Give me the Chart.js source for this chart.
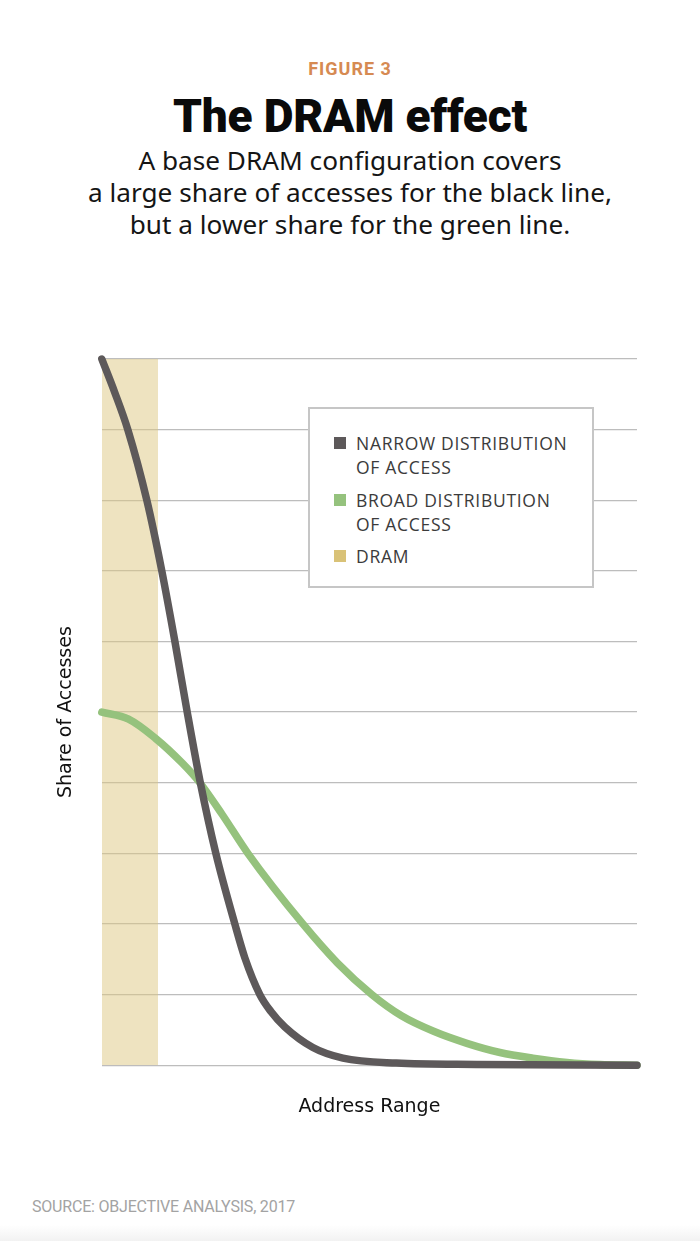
<!DOCTYPE html>
<html>
<head>
<meta charset="utf-8">
<script src="https://cdn.jsdelivr.net/npm/chart.js@4"></script>
<style>
  html, body { margin: 0; padding: 0; background: #fff; }
  body { width: 700px; height: 1241px; position: relative; overflow: hidden; font-family: "Noto Sans", sans-serif; }
  .kicker { position: absolute; top: 58px; left: 0; width: 700px; text-align: center; font: 700 18px Roboto, sans-serif; color: #d68a52; letter-spacing: 1px; }
  .title { position: absolute; top: 89px; left: 0; width: 700px; text-align: center; font: 900 46px Roboto, sans-serif; color: #0a0a0a; letter-spacing: -0.2px; }
  .sub { position: absolute; top: 144px; left: 0; width: 700px; text-align: center; font: 400 26.2px "Noto Sans", sans-serif; color: #151515; line-height: 32px; }
  #wrap { position: absolute; left: 0; top: 330px; width: 700px; height: 800px; }
  .legend { position: absolute; left: 308px; top: 407px; width: 282px; height: 177px; border: 2px solid #c6c6c6; background: #fff; }
  .legend .item { position: absolute; left: 46px; font: 400 17.5px "Open Sans", sans-serif; color: #3b3b3b; line-height: 24px; letter-spacing: 0.7px; white-space: nowrap; }
  .legend .sw { position: absolute; left: -22px; top: 6px; width: 12px; height: 12px; }
  .source { position: absolute; left: 32px; top: 1197px; font: 400 16px Roboto, sans-serif; color: #a3a3a3; letter-spacing: -0.2px; }
  .fade { position: absolute; left: 0; top: 1225px; width: 700px; height: 16px; background: linear-gradient(#fff, #f2f2f2); }
</style>
</head>
<body>
<div class="kicker">FIGURE 3</div>
<div class="title">The DRAM effect</div>
<div class="sub">A base DRAM configuration covers<br>a large share of accesses for the black line,<br>but a lower share for the green line.</div>
<div id="wrap"><canvas id="chart"></canvas></div>
<div class="legend">
  <div class="item" style="top:22px"><span class="sw" style="background:#5d595a"></span>NARROW DISTRIBUTION<br>OF ACCESS</div>
  <div class="item" style="top:79px"><span class="sw" style="background:#95c27d"></span>BROAD DISTRIBUTION<br>OF ACCESS</div>
  <div class="item" style="top:135px"><span class="sw" style="background:#d9c277"></span>DRAM</div>
</div>
<div class="source">SOURCE: OBJECTIVE ANALYSIS, 2017</div>
<div class="fade"></div>
<script>
// Address range in percent of full range, share of accesses on a 0-10 scale
const narrowX = [0, 2.4, 4.86, 8.41, 11.21, 13.66, 15.96, 18.41, 21.31, 24.86, 26.73, 29.53, 31.6, 34.2, 39.44, 45.05, 55, 70, 100];
const narrowY = [10, 9.53, 9, 8, 7, 6, 5, 4, 3, 2, 1.52, 1, 0.76, 0.54, 0.25, 0.1, 0.03, 0.01, 0];
const broadX = [0, 5, 10, 15, 18.32, 22.5, 27.29, 37.57, 44, 50.47, 56, 62, 68.22, 74.39, 80.56, 86.92, 93.08, 100];
const broadY = [5, 4.9, 4.63, 4.28, 4, 3.55, 3, 2, 1.45, 1, 0.7, 0.48, 0.31, 0.18, 0.1, 0.04, 0.01, 0];
const dramX = [0, 10.5];
const dramY = [10, 10];

const pts = (xs, ys) => xs.map((x, i) => ({ x, y: ys[i] }));

const ctx = document.getElementById('chart').getContext('2d');
new Chart(ctx, {
  type: 'line',
  data: {
    datasets: [
      {
        label: 'NARROW DISTRIBUTION OF ACCESS',
        data: pts(narrowX, narrowY),
        borderColor: '#5d595a',
        borderWidth: 7.5,
        borderCapStyle: 'round',
        borderJoinStyle: 'round',
        cubicInterpolationMode: 'monotone',
        pointRadius: 0,
        clip: false,
        order: 0
      },
      {
        label: 'BROAD DISTRIBUTION OF ACCESS',
        data: pts(broadX, broadY),
        borderColor: '#95c27d',
        borderWidth: 7.5,
        borderCapStyle: 'round',
        borderJoinStyle: 'round',
        cubicInterpolationMode: 'monotone',
        pointRadius: 0,
        clip: false,
        order: 1
      },
      {
        label: 'DRAM',
        data: pts(dramX, dramY),
        borderWidth: 0,
        backgroundColor: 'rgba(222,200,130,0.5)',
        fill: 'origin',
        pointRadius: 0,
        order: 2
      }
    ]
  },
  options: {
    responsive: true,
    maintainAspectRatio: false,
    animation: false,
    layout: { padding: { left: 51, right: 63, top: 29, bottom: 8 } },
    scales: {
      x: {
        type: 'linear',
        min: 0,
        max: 100,
        grid: { display: false },
        border: { display: false },
        ticks: { display: false },
        title: { display: true, text: 'Address Range', color: '#111', font: { family: 'DejaVu Sans', size: 19 }, padding: { top: 22 } }
      },
      y: {
        min: 0,
        max: 10,
        grid: { color: '#bdbdbd', lineWidth: 1.3, drawTicks: false },
        border: { display: false },
        ticks: { display: false, stepSize: 1 },
        title: { display: true, text: 'Share of Accesses', color: '#111', font: { family: 'DejaVu Sans', size: 19 }, padding: { bottom: 24 } }
      }
    },
    plugins: {
      legend: { display: false },
      tooltip: { enabled: false }
    }
  }
});
</script>
</body>
</html>
